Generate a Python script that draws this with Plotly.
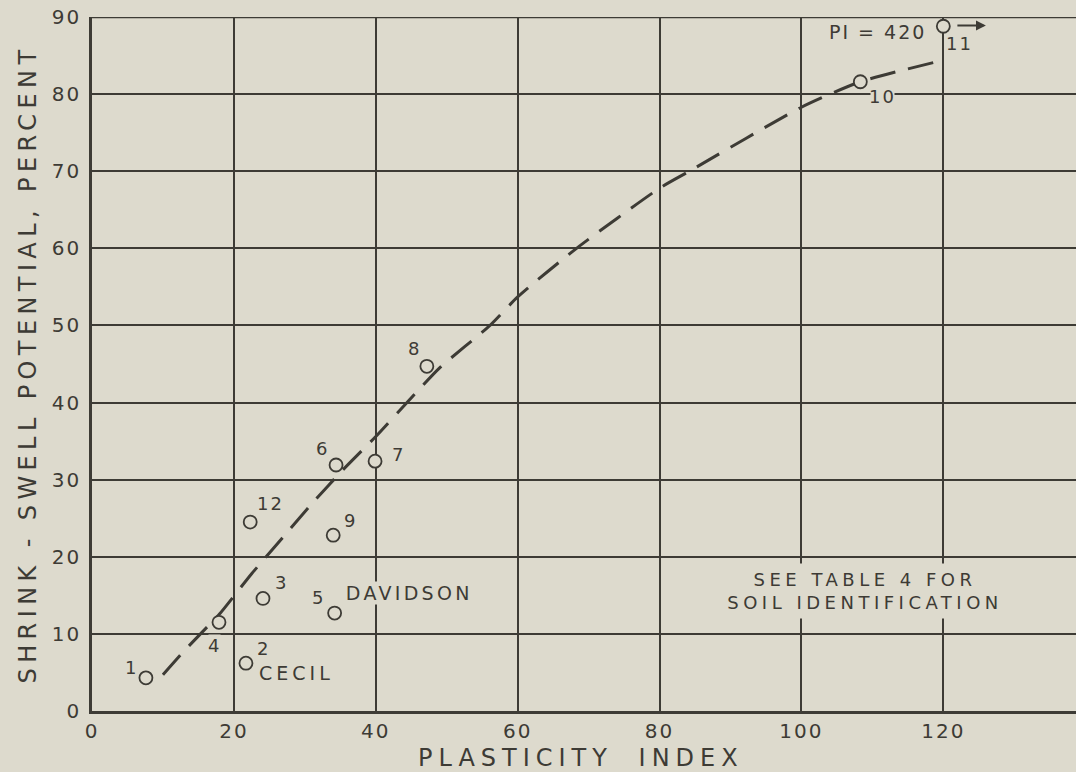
import plotly.graph_objects as go

# Soil samples: plasticity index vs. shrink-swell potential
soil_no = ["1", "2", "3", "4", "5", "6", "7", "8", "9", "10", "11", "12"]
plasticity = [7.6, 21.7, 24.1, 17.9, 34.2, 34.4, 39.9, 47.2, 34.0, 108.3, 120.0, 22.3]
shrink_swell = [4.3, 6.2, 14.6, 11.5, 12.7, 31.9, 32.4, 44.7, 22.8, 81.6, 88.8, 24.5]

# label offsets (px) around each circle: (right, up)
label_dx = [-14, 18, 19, -4, -16, -14, 23, -12, 17, 22, 16, 20]
label_dy = [10, 15, 16, -23, 16, 17, 7, 18, 15, -15, -17, 19]

# Fitted trend curve
curve_pi = [10, 12.8, 15.5, 18, 22.5, 26.8, 31.1, 35.4, 39.9, 44.5, 49.0, 56.1, 60, 68.3, 80, 84.2, 100, 108.3, 120]
curve_ss = [4.7, 7.6, 10.2, 12.6, 17.8, 22.4, 27.0, 31.3, 35.5, 40.1, 44.5, 50.0, 53.7, 60.0, 67.8, 70.0, 78.3, 81.6, 84.4]

x_ticks = [0, 20, 40, 60, 80, 100, 120]
y_ticks = [0, 10, 20, 30, 40, 50, 60, 70, 80, 90]

PAPER = "#dddacd"
INK = "#3d3b35"
FONT = "DejaVu Sans"

fig = go.Figure()

fig.add_trace(go.Scatter(
    x=curve_pi, y=curve_ss, mode="lines",
    line=dict(color=INK, width=3, dash="26px,13px", shape="spline", smoothing=0.6),
    hoverinfo="skip", showlegend=False,
))

fig.add_trace(go.Scatter(
    x=plasticity, y=shrink_swell, mode="markers",
    marker=dict(symbol="circle", size=13, color=PAPER, line=dict(color=INK, width=1.8)),
    text=soil_no, showlegend=False, cliponaxis=False,
))

annotations = []
for i, lab in enumerate(soil_no):
    annotations.append(dict(
        x=plasticity[i], y=shrink_swell[i], xref="x", yref="y",
        text=lab, showarrow=False, xshift=label_dx[i], yshift=label_dy[i],
        font=dict(family=FONT, size=18, color=INK),
        bgcolor=PAPER, borderpad=0,
    ))

# named soils
annotations.append(dict(x=21.7, y=6.2, xref="x", yref="y", text="CECIL", showarrow=False,
                        xshift=51, yshift=-10, font=dict(family=FONT, size=19, color=INK),
                        bgcolor=PAPER, borderpad=0))
annotations.append(dict(x=34.2, y=12.7, xref="x", yref="y", text="DAVIDSON", showarrow=False,
                        xshift=75, yshift=20, font=dict(family=FONT, size=19, color=INK),
                        bgcolor=PAPER, borderpad=0))
annotations.append(dict(x=120.0, y=88.8, xref="x", yref="y", text="PI = 420", showarrow=False,
                        xshift=-66, yshift=-6, font=dict(family=FONT, size=19, color=INK),
                        bgcolor=PAPER, borderpad=0))
# arrow pointing off the scale for sample 11
annotations.append(dict(x=126.0, y=88.9, xref="x", yref="y", text="", showarrow=True,
                        ax=-37, ay=0, arrowhead=2, arrowsize=1.1, arrowwidth=1.8,
                        arrowcolor=INK, standoff=0, startstandoff=7))
annotations.append(dict(x=108.9, y=15.6, xref="x", yref="y",
                        text="SEE TABLE 4 FOR<br>SOIL IDENTIFICATION", showarrow=False,
                        font=dict(family=FONT, size=18, color=INK), align="center",
                        bgcolor=PAPER, borderpad=5))
# x axis title
annotations.append(dict(x=68.9, y=0, xref="x", yref="paper", yanchor="middle", text="PLASTICITY INDEX",
                        showarrow=False, yshift=-47, font=dict(family=FONT, size=24, color=INK)))

fig.update_layout(
    width=1076, height=772,
    margin=dict(l=92, r=0, t=17, b=61),
    paper_bgcolor=PAPER, plot_bgcolor=PAPER,
    annotations=annotations,
    showlegend=False,
    # heavier frame line along the top of the grid
    shapes=[dict(type="line", xref="paper", yref="y", x0=0, x1=1, y0=90, y1=90,
                 line=dict(color=INK, width=2.4), layer="below")],
)

fig.update_xaxes(
    range=[0, 138.7], tickvals=x_ticks, ticktext=[str(v) for v in x_ticks],
    showgrid=True, gridcolor=INK, gridwidth=1.5, zeroline=False,
    showline=True, linecolor=INK, linewidth=2.6,
    ticks="", tickfont=dict(family=FONT, size=20, color=INK), ticklabelstandoff=0,
)
fig.update_yaxes(
    range=[0, 90], tickvals=y_ticks, ticktext=[str(v) for v in y_ticks],
    showgrid=True, gridcolor=INK, gridwidth=1.5, zeroline=False,
    showline=True, linecolor=INK, linewidth=2.6,
    ticks="", tickfont=dict(family=FONT, size=20, color=INK), ticklabelstandoff=4,
    title=dict(text="SHRINK - SWELL POTENTIAL, PERCENT", font=dict(family=FONT, size=24, color=INK),
               standoff=13),
)

# wider lettering, like stenciled drafting text
post = """
var gd = document.getElementById('{plot_id}');
var wide = {'PLASTICITY INDEX': ['6px', '12px'], 'SHRINK - SWELL POTENTIAL, PERCENT': ['5.4px', '0px'],
            'SEE TABLE 4 FORSOIL IDENTIFICATION': ['4.5px', '0px'], 'DAVIDSON': ['3.3px', '0px'],
            'CECIL': ['4px', '0px']};
gd.querySelectorAll('text').forEach(function (t) {
  var s = wide[t.textContent];
  t.style.letterSpacing = s ? s[0] : '2px';
  if (s) { t.style.wordSpacing = s[1]; }
});
"""

fig.write_html("out.html", post_script=post)
